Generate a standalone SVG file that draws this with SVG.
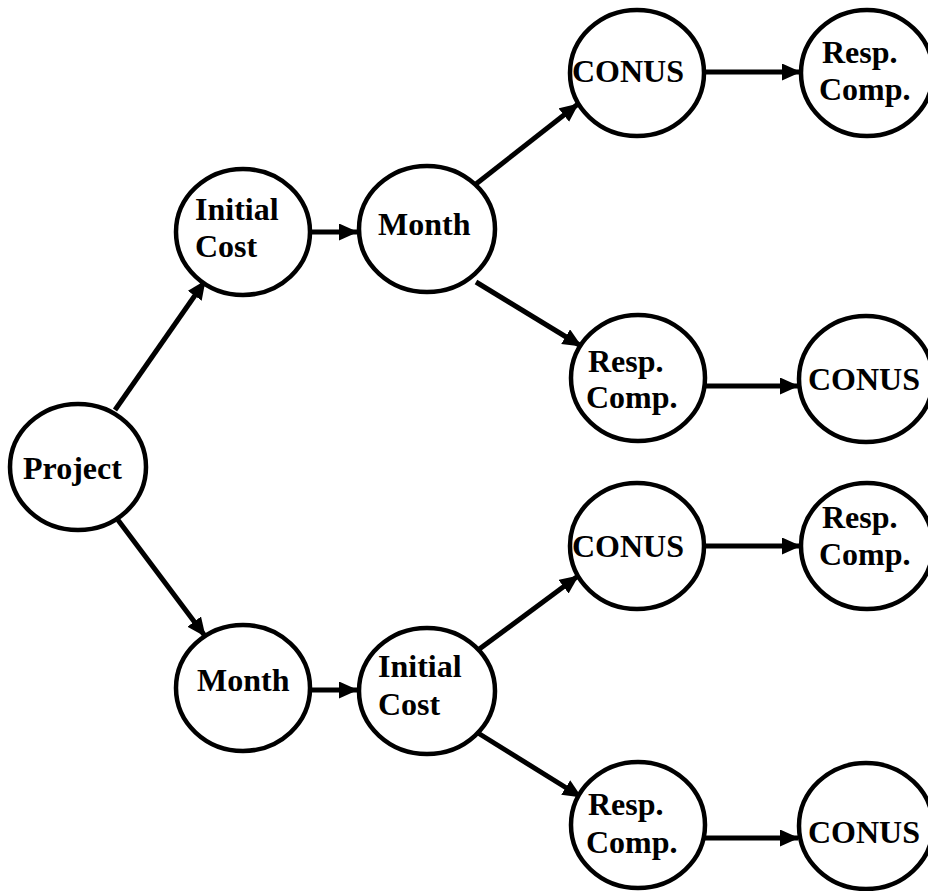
<svg xmlns="http://www.w3.org/2000/svg" width="928" height="891" viewBox="0 0 928 891">
<defs>
<style>
.n ellipse{fill:#fff;stroke:#000;stroke-width:4.5}
.n text{font-family:"Liberation Serif","Times New Roman",serif;font-weight:bold;font-size:32px;fill:#000}
.c line{stroke:#000;stroke-width:5}
</style>
<marker id="ah" markerUnits="userSpaceOnUse" markerWidth="20" markerHeight="18" refX="18" refY="8.5" orient="auto">
<path d="M0,0 L19,8.5 L0,17 Z" fill="#000"/>
</marker>
</defs>
<rect width="928" height="891" fill="#fff"/>
<g class="c" id="connectors">
<line x1="115" y1="410" x2="205" y2="281" marker-end="url(#ah)"/>
<line x1="118" y1="520" x2="205" y2="636" marker-end="url(#ah)"/>
<line x1="311" y1="232" x2="357" y2="232" marker-end="url(#ah)"/>
<line x1="476" y1="184" x2="578" y2="104" marker-end="url(#ah)"/>
<line x1="476" y1="282" x2="581" y2="346" marker-end="url(#ah)"/>
<line x1="705" y1="72" x2="800" y2="72" marker-end="url(#ah)"/>
<line x1="705" y1="386" x2="798" y2="386" marker-end="url(#ah)"/>
<line x1="311" y1="690" x2="357" y2="690" marker-end="url(#ah)"/>
<line x1="478" y1="650" x2="578" y2="576" marker-end="url(#ah)"/>
<line x1="478" y1="733" x2="581" y2="797" marker-end="url(#ah)"/>
<line x1="705" y1="546" x2="800" y2="546" marker-end="url(#ah)"/>
<line x1="705" y1="838" x2="798" y2="838" marker-end="url(#ah)"/>
</g>
<g class="n" id="project"><ellipse cx="78" cy="467" rx="68" ry="63"/><text x="23" y="479">Project</text></g>
<g class="n" id="initial-cost-1"><ellipse cx="243" cy="232" rx="67" ry="63"/><text x="195" y="220">Initial</text><text x="195" y="257">Cost</text></g>
<g class="n" id="month-1"><ellipse cx="427" cy="229" rx="68" ry="63"/><text x="378" y="235">Month</text></g>
<g class="n" id="conus-1"><ellipse cx="637" cy="73" rx="67" ry="63"/><text x="572" y="82">CONUS</text></g>
<g class="n" id="resp-1"><ellipse cx="867" cy="73" rx="66" ry="63"/><text x="822" y="63">Resp.</text><text x="819" y="100">Comp.</text></g>
<g class="n" id="resp-2"><ellipse cx="638" cy="378" rx="67" ry="63"/><text x="588" y="372">Resp.</text><text x="586" y="408">Comp.</text></g>
<g class="n" id="conus-2"><ellipse cx="866" cy="379" rx="67" ry="63"/><text x="808" y="390">CONUS</text></g>
<g class="n" id="month-2"><ellipse cx="243" cy="688" rx="67" ry="63"/><text x="197" y="691">Month</text></g>
<g class="n" id="initial-cost-2"><ellipse cx="427" cy="691" rx="68" ry="63"/><text x="378" y="677">Initial</text><text x="378" y="715">Cost</text></g>
<g class="n" id="conus-3"><ellipse cx="637" cy="546" rx="67" ry="63"/><text x="572" y="557">CONUS</text></g>
<g class="n" id="resp-3"><ellipse cx="867" cy="546" rx="66" ry="63"/><text x="822" y="528">Resp.</text><text x="819" y="565">Comp.</text></g>
<g class="n" id="resp-4"><ellipse cx="638" cy="825" rx="67" ry="63"/><text x="588" y="815">Resp.</text><text x="586" y="853">Comp.</text></g>
<g class="n" id="conus-4"><ellipse cx="866" cy="826" rx="67" ry="63"/><text x="808" y="843">CONUS</text></g>
</svg>
